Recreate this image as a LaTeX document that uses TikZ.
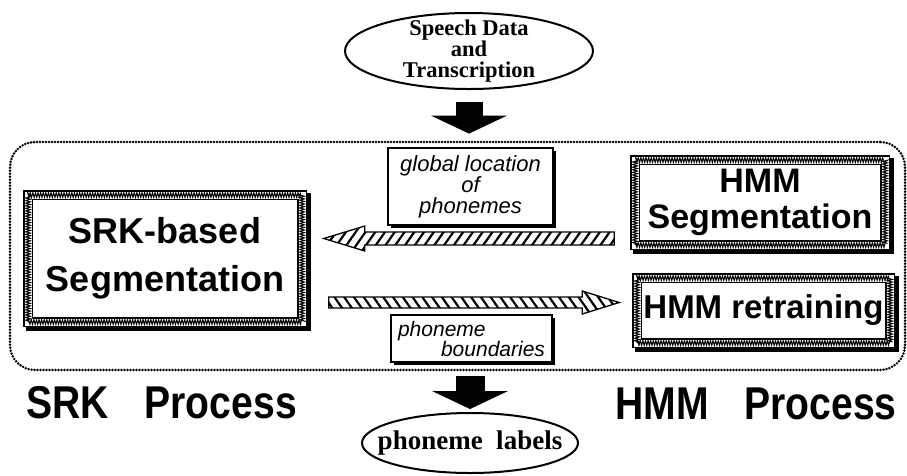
\documentclass[tikz,border=0pt]{standalone}
\usepackage{fontspec}
\setmainfont{Liberation Serif}
\setsansfont{Liberation Sans}
\newfontfamily\condsans[FakeStretch=0.85]{Liberation Sans}
\usetikzlibrary{arrows.meta,positioning,calc,shapes.geometric,patterns.meta,decorations.pathmorphing}
\tikzset{
  segbox/.style={rectangle, draw, line width=1.6pt, double=white, double distance=7pt,
    fill=white, align=center, inner sep=0pt,
    preaction={draw, line width=10.5pt, transform canvas={shift={(3.5pt,-3.5pt)}}},
    postaction={draw, line width=1pt, decorate,
      decoration={zigzag, segment length=2.6pt, amplitude=2.4pt}}},
  notebox/.style={rectangle, draw, line width=1.3pt, fill=white, inner sep=0pt,
    preaction={fill=black, transform canvas={shift={(3pt,-3pt)}}}},
  dataell/.style={ellipse, draw, line width=2pt, align=center},
  procframe/.style={rectangle, draw, line width=2.8pt, line cap=round,
    dash pattern=on 0pt off 3pt, rounded corners=25pt},
  bigarrow/.style={line width=27pt, -{Triangle[width=76pt, length=18pt, line width=0pt]}},
  hatcharrow/.style={draw, line width=1.3pt, line join=miter},
  proclabel/.style={font=\condsans\bfseries\fontsize{46}{50}\selectfont, inner sep=0pt},
}

\begin{document}
\begin{tikzpicture}[x=1pt, y=-1pt]
  \useasboundingbox (0,0) rectangle (907,475);

  % dotted frame round the two processes
  \node[procframe, minimum width=895pt, minimum height=228pt] (frame) at (457.5,256) {};

  % input and output
  \node[dataell, minimum width=248pt, minimum height=76pt, inner xsep=0pt, inner ysep=-9pt,
    font=\bfseries\fontsize{22.5}{21}\selectfont] (speech) at (469,51) {Speech Data\\and\\Transcription};
  \node[dataell, minimum width=216pt, minimum height=60pt, inner xsep=-18pt, inner ysep=0pt,
    font=\bfseries\fontsize{27}{30}\selectfont] (labels) at (470,443) {phoneme\ \ labels};

  \draw[bigarrow, shorten <=12pt, shorten >=7pt] (speech.south) -- (speech.south |- frame.north);
  \draw[bigarrow, line width=29pt, shorten <=5pt, shorten >=3pt] (frame.south -| labels.north) -- (labels.north);

  % segmentation boxes
  \node[segbox, minimum width=274pt, minimum height=127pt,
    font=\sffamily\bfseries\fontsize{36}{48}\selectfont] (srk) at (165,258.5) {SRK-based\\Segmentation};
  \node[segbox, minimum width=250pt, minimum height=85pt,
    font=\sffamily\bfseries\fontsize{34}{36}\selectfont] (hmmseg) at (760,202.5) {HMM\\Segmentation};
  \node[segbox, minimum width=253pt, minimum height=65pt,
    font=\sffamily\bfseries\fontsize{33}{36}\selectfont] (hmmret) at (763.5,310.5) {HMM retraining};

  % notes on the exchanged data
  \node[notebox, minimum width=165pt, minimum height=77pt, align=center,
    font=\sffamily\itshape\fontsize{22}{20.5}\selectfont] (gloc) at (470.5,186.5) {global location\\of\\phonemes};
  \node[notebox, minimum width=161pt, minimum height=47pt, align=left,
    font=\sffamily\itshape\fontsize{21}{20}\selectfont] (bound) at (471.5,338.5) {phoneme\\\hspace*{43pt}boundaries};

  % hatched arrows
  \coordinate (gy) at (0,238.5);
  \coordinate (by) at (0,302.5);
  \path (hmmseg.west |- gy) coordinate (gs) (srk.east |- gy) coordinate (gt);
  \path (srk.east |- by) coordinate (bs) (hmmret.west |- by) coordinate (bt);
  \draw[hatcharrow, pattern={Lines[angle=55, distance=8pt, line width=2.2pt]}]
    ([xshift=-20pt, yshift=6.5pt]gs) -- ([xshift=62pt, yshift=6.5pt]gt)
    -- ([xshift=62pt, yshift=12.5pt]gt) -- ([xshift=21pt]gt)
    -- ([xshift=62pt, yshift=-12.5pt]gt) -- ([xshift=62pt, yshift=-6.5pt]gt)
    -- ([xshift=-20pt, yshift=-6.5pt]gs) -- cycle;
  \draw[hatcharrow, pattern={Lines[angle=-55, distance=8pt, line width=2.2pt]}]
    ([xshift=26pt, yshift=5.5pt]bs) -- ([xshift=-54pt, yshift=5.5pt]bt)
    -- ([xshift=-54pt, yshift=11.5pt]bt) -- ([xshift=-17pt]bt)
    -- ([xshift=-54pt, yshift=-11.5pt]bt) -- ([xshift=-54pt, yshift=-5.5pt]bt)
    -- ([xshift=26pt, yshift=-5.5pt]bs) -- cycle;

  % process names
  \node[proclabel, anchor=base] (srkproc) at (161.5,418) {SRK\hspace{36pt}Process};
  \node[proclabel, anchor=base] (hmmproc) at (756,419) {HMM\hspace{36pt}Process};
\end{tikzpicture}
\end{document}
